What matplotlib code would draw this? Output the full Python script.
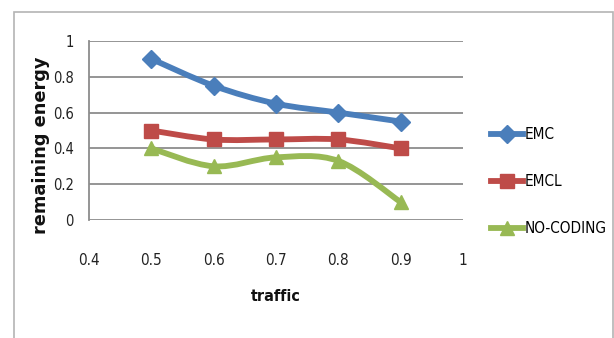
import matplotlib
matplotlib.use("Agg")
import matplotlib.pyplot as plt
from matplotlib.path import Path
from matplotlib.patches import PathPatch, Rectangle
from matplotlib.lines import Line2D
from matplotlib.font_manager import FontProperties
import numpy as np

traffic = [0.5, 0.6, 0.7, 0.8, 0.9]
emc = [0.9, 0.75, 0.65, 0.6, 0.55]
emcl = [0.5, 0.45, 0.45, 0.45, 0.4]
no_coding = [0.4, 0.3, 0.35, 0.33, 0.1]

series_names = ["EMC", "EMCL", "NO-CODING"]
x_ticks = [0.4, 0.5, 0.6, 0.7, 0.8, 0.9, 1.0]
x_tick_labels = ["0.4", "0.5", "0.6", "0.7", "0.8", "0.9", "1"]
y_ticks = [0, 0.2, 0.4, 0.6, 0.8, 1.0]
y_tick_labels = ["0", "0.2", "0.4", "0.6", "0.8", "1"]

colors = ["#4A7EBB", "#BE4B48", "#98B954"]
markers = ["D", "s", "^"]
msizes = [9, 10, 10]


def cond(size, weight="normal"):
    return FontProperties(family="DejaVu Sans", stretch="condensed",
                          size=size, weight=weight)


def smooth_path(xs, ys):
    """Bezier path through the points, in the style of spreadsheet smoothed lines."""
    pts = np.column_stack([xs, ys]).astype(float)
    n = len(pts)
    verts = [pts[0]]
    codes = [Path.MOVETO]
    for i in range(n - 1):
        p0 = pts[i - 1] if i > 0 else pts[i]
        p1 = pts[i]
        p2 = pts[i + 1]
        p3 = pts[i + 2] if i + 2 < n else pts[i + 1]
        c1 = p1 + (p2 - p0) / 6.0
        c2 = p2 - (p3 - p1) / 6.0
        verts += [c1, c2, p2]
        codes += [Path.CURVE4] * 3
    return Path(verts, codes)


fig = plt.figure(figsize=(6.14, 3.38), dpi=100)
fig.patch.set_facecolor("white")

# outer chart frame
fig.patches.append(Rectangle((14 / 614, -0.01), (613 - 14) / 614, 1 - 12 / 338 + 0.01,
                             transform=fig.transFigure, fill=False,
                             edgecolor="#B4B4B4", linewidth=1.2))

ax = fig.add_axes([89 / 614, 1 - 220 / 338, (463 - 89) / 614, 179 / 338])
ax.set_xlim(0.4, 1.0)
ax.set_ylim(0, 1.0)

for y in y_ticks:
    ax.axhline(y, color="#8C8C8C", linewidth=1.3, zorder=1)

for s in ["top", "right", "bottom"]:
    ax.spines[s].set_visible(False)
ax.spines["left"].set_color("#8C8C8C")
ax.spines["left"].set_linewidth(1.3)

ax.set_xticks(x_ticks)
ax.set_xticklabels(x_tick_labels, fontproperties=cond(11), color="#222222")
ax.set_yticks(y_ticks)
ax.set_yticklabels(y_tick_labels, fontproperties=cond(10.5), color="#222222")
ax.tick_params(axis="both", length=0)
ax.tick_params(axis="x", pad=24)
ax.tick_params(axis="y", pad=11)

for vals, c, m, ms in zip([emc, emcl, no_coding], colors, markers, msizes):
    ax.add_patch(PathPatch(smooth_path(traffic, vals), facecolor="none",
                           edgecolor=c, linewidth=4.2, zorder=3,
                           capstyle="round", joinstyle="round"))
    ax.plot(traffic, vals, linestyle="none", marker=m, markersize=ms,
            color=c, markeredgecolor=c, zorder=4, clip_on=False)

ax.set_xlabel("traffic", fontproperties=cond(11.5, "bold"), color="#111111")
ax.xaxis.set_label_coords(0.5, -(289 - 220) / 179, transform=ax.transAxes)
ax.set_ylabel("remaining energy", fontsize=12.8, fontweight="bold",
              family="DejaVu Sans", color="#111111")
ax.yaxis.set_label_coords(-(89 - 50) / 374, (220 - 145) / 179, transform=ax.transAxes)

handles = [Line2D([0], [0], color=c, linewidth=4.2, marker=m, markersize=ms,
                  markeredgecolor=c)
           for c, m, ms in zip(colors, markers, msizes)]
fig.legend(handles, series_names, loc="upper left",
           bbox_to_anchor=(485 / 614, 1 - 121 / 338), frameon=False,
           prop=cond(11), labelspacing=2.1,
           handlelength=2.1, handletextpad=0.1, borderaxespad=0)

fig.savefig("out.png", dpi=100, facecolor="white")
